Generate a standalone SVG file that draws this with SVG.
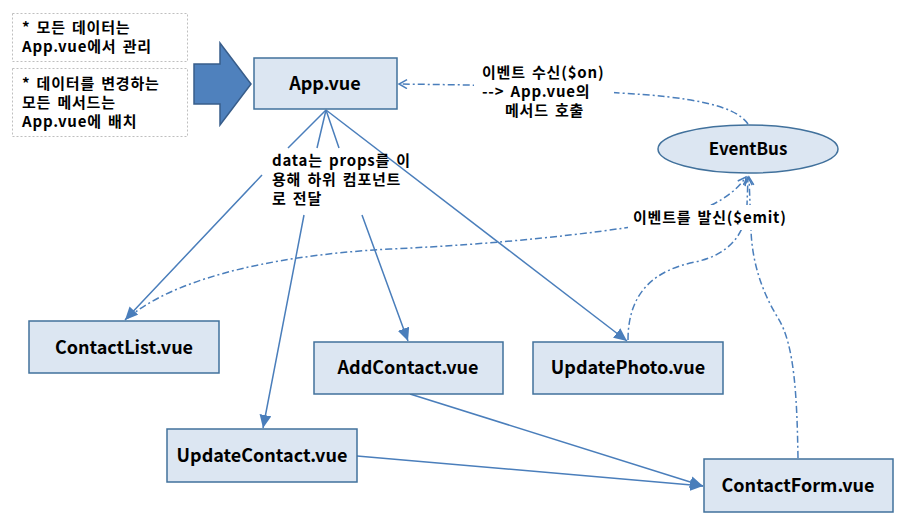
<svg xmlns="http://www.w3.org/2000/svg" width="904" height="528" viewBox="0 0 904 528">
<style>
text{font-family:"Noto Sans CJK KR","Liberation Sans",sans-serif;font-weight:bold;fill:#000}
.node{fill:#DCE6F2;stroke:#41719C;stroke-width:1.5}
.nt{font-size:18px;text-anchor:middle}
.lbl{font-size:15px;letter-spacing:0.8px;word-spacing:2px}
.note{fill:#fff;stroke:#BFBFBF;stroke-width:1;stroke-dasharray:2 2}
.sol{fill:none;stroke:#4A7EBB;stroke-width:1.5;marker-end:url(#ah)}
.dd{fill:none;stroke:#4A7EBB;stroke-width:1.5;stroke-dasharray:7 3 2 3;marker-end:url(#oh)}
.wb{fill:#fff}
</style>
<defs>
<marker id="ah" markerUnits="userSpaceOnUse" markerWidth="14" markerHeight="12" refX="13" refY="6" orient="auto">
<path d="M0,0 L13,6 L0,12 z" fill="#4A7EBB"/>
</marker>
<marker id="oh" markerUnits="userSpaceOnUse" markerWidth="12" markerHeight="12" refX="9" refY="5" orient="auto">
<path d="M1,0.5 L9,5 L1,9.5" fill="none" stroke="#4A7EBB" stroke-width="1.5"/>
</marker>
</defs>
<rect width="904" height="528" fill="#fff"/>

<g id="note1">
<rect class="note" x="12.5" y="13.5" width="175" height="48"/>
<text class="lbl" x="22" y="33">* 모든 데이터는</text>
<text class="lbl" x="22" y="52">App.vue에서 관리</text>
</g>
<g id="note2">
<rect class="note" x="12.5" y="68.5" width="175" height="68"/>
<text class="lbl" x="22" y="89">* 데이터를 변경하는</text>
<text class="lbl" x="22" y="108">모든 메서드는</text>
<text class="lbl" x="22" y="127">App.vue에 배치</text>
</g>
<g id="bigArrow">
<polygon points="194,64 220,64 220,43 251,84 220,125 220,104 194,104" fill="#4F81BD" stroke="#385D8A" stroke-width="1.5"/>
</g>

<g id="connectors">
<path class="sol" d="M326,110 L288,148 M262,175 L125,320"/>
<path class="sol" d="M326,110 L317,148 M304,215 L263,428"/>
<path class="sol" d="M326,110 L339,148 M362,215 L408,341"/>
<path class="sol" d="M326,110 L627,341"/>
<path class="sol" d="M410,394 L703,486"/>
<path class="sol" d="M357,456 L703,486"/>
<path class="dd" d="M748,124 C735,105 690,97 620,93 L470,85 L399,84"/>
<path class="dd" d="M128,318 C170,282 260,256 390,249 C500,244 590,234 650,224 C700,214 730,200 746,177"/>
<path class="dd" d="M628,340 C628,292 655,270 695,262 C728,255 746,235 747,205 L748,177"/>
<path class="dd" d="M798,458 C797,400 795,345 778,318 C762,292 752,262 751,230 L749,177"/>
</g>

<g id="labelOn">
<rect class="wb" x="474" y="62" width="140" height="60"/>
<text class="lbl" x="482" y="78">이벤트 수신($on)</text>
<text class="lbl" x="482" y="97">--&gt; App.vue의</text>
<text class="lbl" x="505" y="116">메서드 호출</text>
</g>
<g id="labelProps">
<text class="lbl" x="272" y="166">data는 props를 이</text>
<text class="lbl" x="272" y="185">용해 하위 컴포넌트</text>
<text class="lbl" x="272" y="204">로 전달</text>
</g>
<g id="labelEmit">
<rect class="wb" x="628" y="205" width="162" height="25"/>
<text class="lbl" x="633" y="223">이벤트를 발신($emit)</text>
</g>

<g id="App">
<rect class="node" x="254" y="58" width="143" height="51"/>
<text class="nt" x="325" y="90">App.vue</text>
</g>
<g id="EventBus">
<ellipse class="node" cx="748" cy="149" rx="90" ry="24"/>
<text class="nt" x="748" y="155" style="font-size:17px">EventBus</text>
</g>
<g id="ContactList">
<rect class="node" x="29" y="321" width="190" height="52"/>
<text class="nt" x="124" y="354">ContactList.vue</text>
</g>
<g id="AddContact">
<rect class="node" x="314" y="342" width="189" height="52"/>
<text class="nt" x="408" y="374">AddContact.vue</text>
</g>
<g id="UpdatePhoto">
<rect class="node" x="533" y="342" width="190" height="52"/>
<text class="nt" x="628" y="374">UpdatePhoto.vue</text>
</g>
<g id="UpdateContact">
<rect class="node" x="167" y="429" width="190" height="53"/>
<text class="nt" x="262" y="462">UpdateContact.vue</text>
</g>
<g id="ContactForm">
<rect class="node" x="704" y="459" width="189" height="53"/>
<text class="nt" x="798" y="492">ContactForm.vue</text>
</g>
</svg>
